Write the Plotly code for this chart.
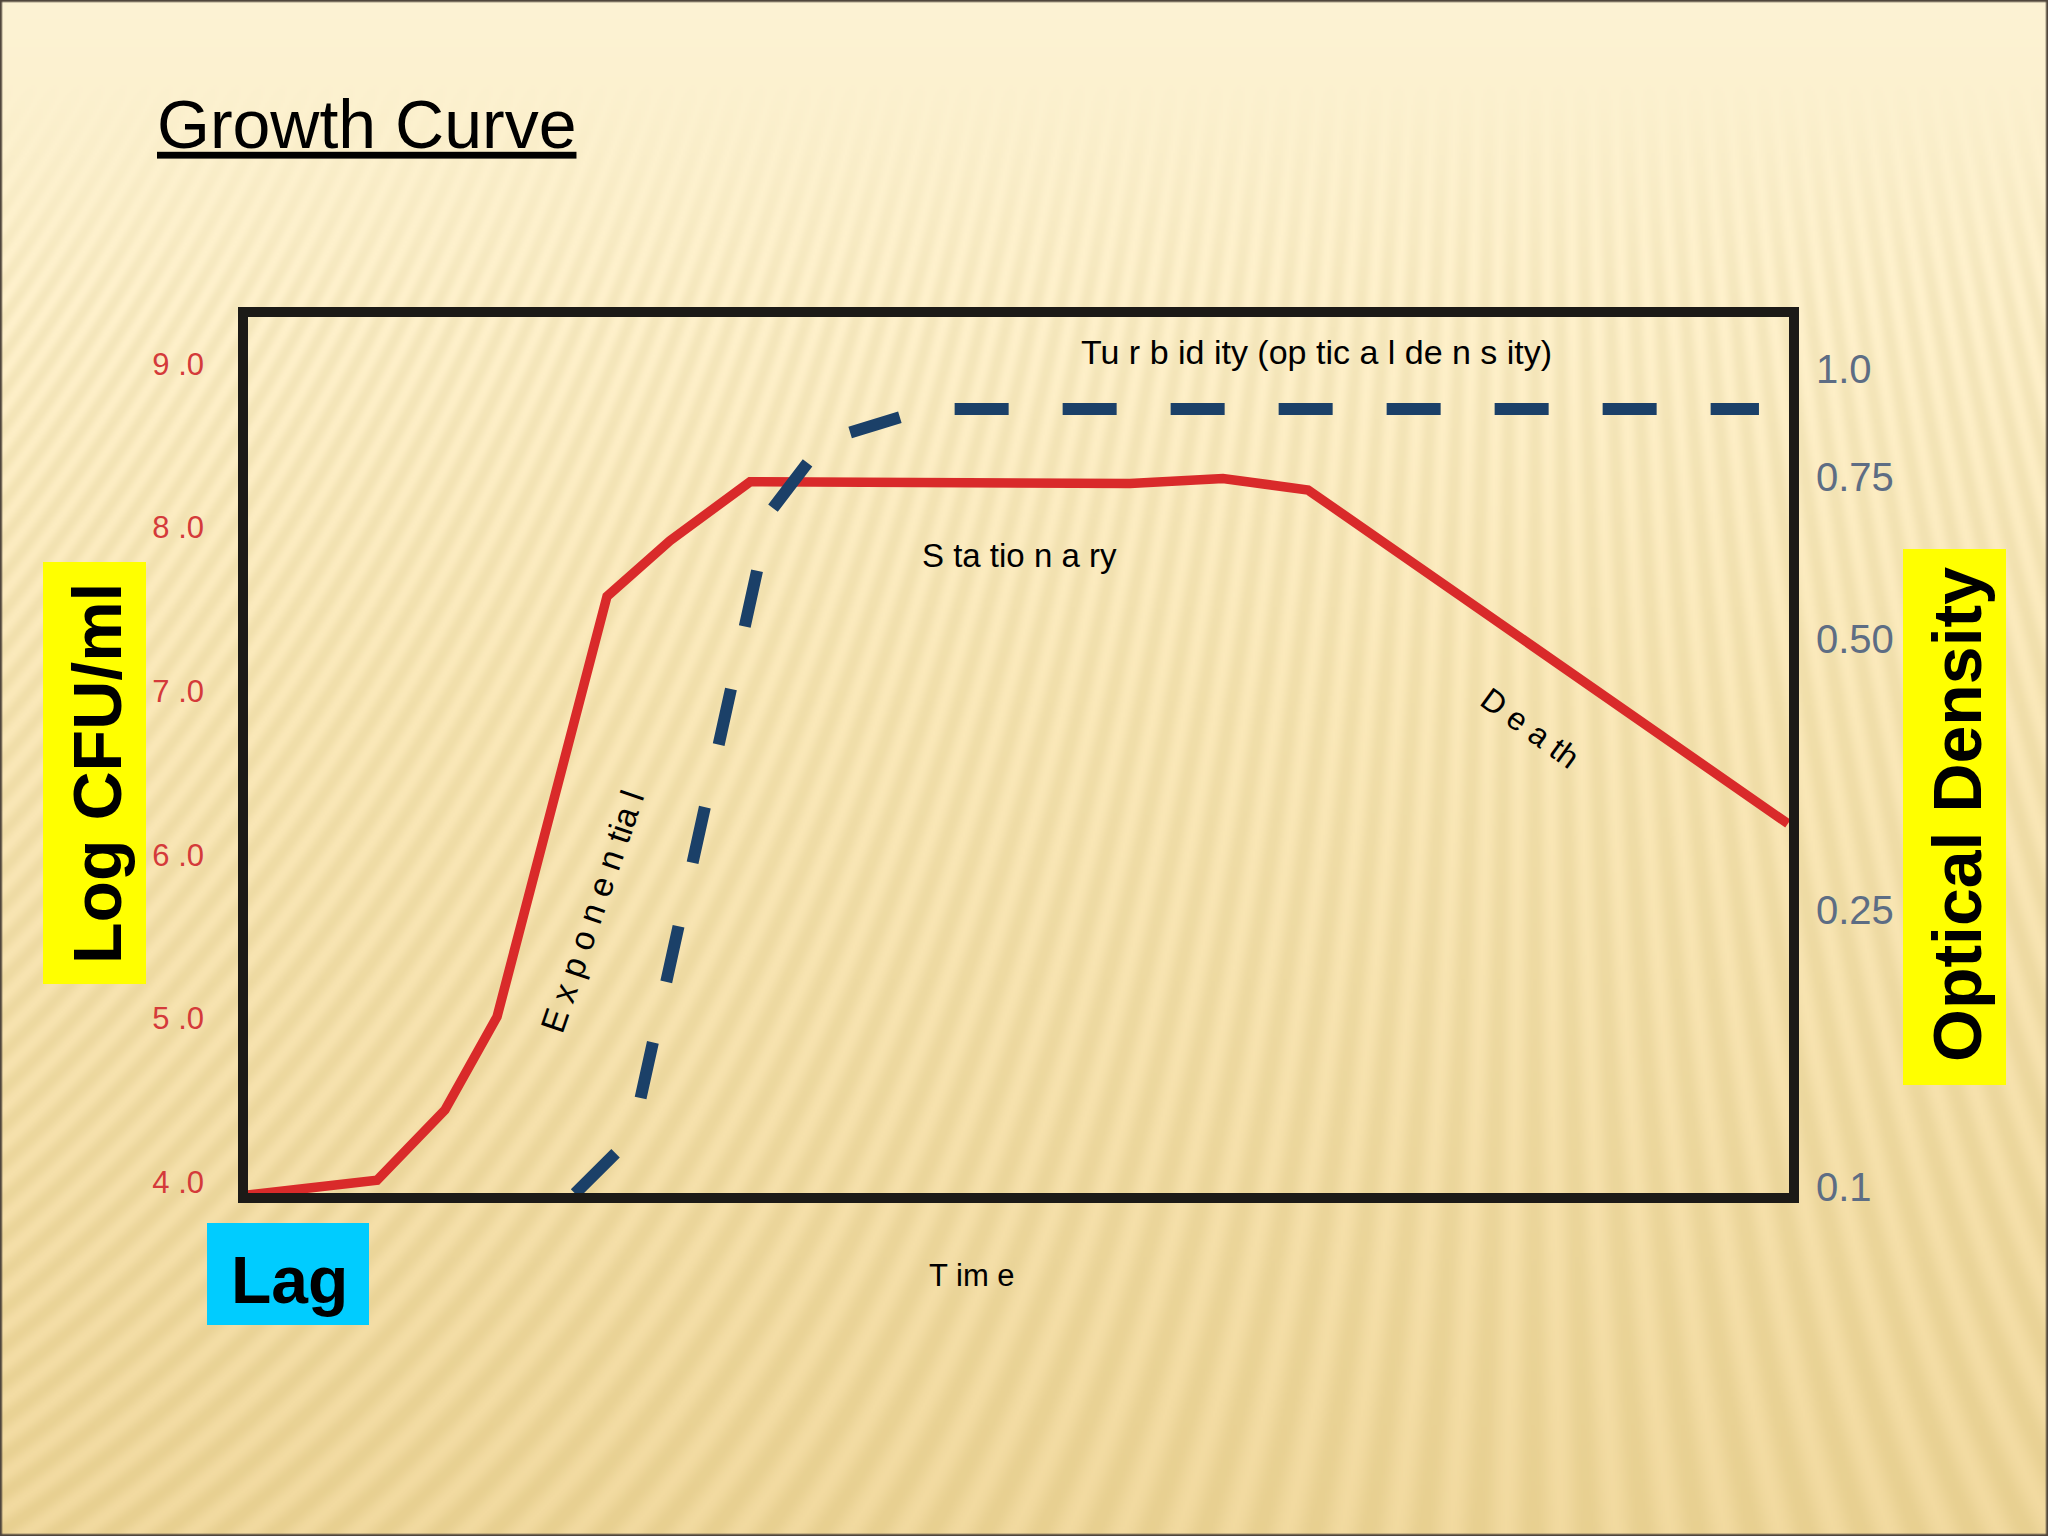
import base64
import struct
import zlib

import numpy as np
import plotly.graph_objects as go

# ---------------- data ----------------
time_cfu = [0.32, 8.64, 13.02, 16.38, 23.47, 27.53, 32.69, 57.19, 63.18, 68.67, 99.61]
log_cfu = [3.92, 4.01, 4.44, 5.01, 7.58, 7.92, 8.28, 8.27, 8.30, 8.23, 6.19]

time_od = [21.41, 25.08, 33.98, 37.52, 44.10, 97.74]
od_level = [3.93, 4.275, 8.095, 8.535, 8.725, 8.725]   # on the (non-linear) OD scale below

cfu_tick_vals = [4, 5, 6, 7, 8, 9]
cfu_tick_text = ["4 .0", "5 .0", "6 .0", "7 .0", "8 .0", "9 .0"]

od_tick_pos = [3.97, 5.66, 7.32, 8.31, 8.97]
od_tick_text = ["0.1", "0.25", "0.50", "0.75", "1.0"]

# ---------------- geometry helpers ----------------
W, H = 2048, 1536
ML, MR, MT, MB = 243, 254, 312, 338
PW, PH = W - ML - MR, H - MT - MB


def px2x(px):
    return (px - ML) / PW


def py2y(py):
    return (MT + PH - py) / PH


# ---------------- background image ----------------
def make_png(arr):
    h, w, _ = arr.shape
    raw = b"".join(b"\x00" + arr[i].tobytes() for i in range(h))

    def chunk(t, d):
        return struct.pack(">I", len(d)) + t + d + struct.pack(">I", zlib.crc32(t + d) & 0xFFFFFFFF)

    return (b"\x89PNG\r\n\x1a\n"
            + chunk(b"IHDR", struct.pack(">IIBBBBB", w, h, 8, 2, 0, 0, 0))
            + chunk(b"IDAT", zlib.compress(raw, 9))
            + chunk(b"IEND", b""))


bh, bw = 768, 1024
yy, xx = np.mgrid[0:bh, 0:bw].astype(float)
yy *= 2.0
xx *= 2.0
stops_y = np.array([0, 230, 700, 1536], float)
stops_c = np.array([[253, 243, 212], [251, 238, 200], [246, 228, 178], [237, 213, 152]], float)
base = np.stack([np.interp(yy, stops_y, stops_c[:, k]) for k in range(3)], axis=-1)
slope = 0.6 - 0.8 * (xx / 2048.0)
phase = 2 * np.pi * (xx + slope * yy) / 22.0
stripe = np.sin(phase)
amp = np.clip((yy - 80) / 220.0, 0, 1) * 5.0
img = base + (stripe * amp)[..., None] * np.array([1.0, 1.0, 1.5])
img = np.clip(img, 0, 255).astype(np.uint8)
img[0, :] = [80, 70, 60]
img[-1, :] = [80, 70, 60]
img[:, 0] = [80, 70, 60]
img[:, -1] = [80, 70, 60]
bg_src = "data:image/png;base64," + base64.b64encode(make_png(img)).decode("ascii")

# ---------------- figure ----------------
SANS = "Liberation Sans, Arial, sans-serif"

od_dash = ",".join(str(v) + "px" for v in
                   [57, 63, 57, 62, 57, 65, 57, 64, 57, 64, 57, 65, 57, 55, 52, 56] + [54] * 24)

fig = go.Figure()
fig.add_trace(go.Scatter(
    x=time_cfu, y=log_cfu, mode="lines",
    line=dict(color="#D92A2A", width=9.5),
    yaxis="y", showlegend=False, hoverinfo="skip"))
fig.add_trace(go.Scatter(
    x=time_od, y=od_level, mode="lines",
    line=dict(color="#1B4068", width=12, dash=od_dash),
    yaxis="y2", showlegend=False, hoverinfo="skip"))

yr = [3.902, 9.318]
fig.update_layout(
    width=W, height=H,
    margin=dict(l=ML, r=MR, t=MT, b=MB, pad=0),
    paper_bgcolor="#F6E4B2",
    plot_bgcolor="#FFFFFF",
    title=dict(text="<u>Growth Curve</u>", x=157 / W, y=1 - 124 / H,
               xref="container", yref="container", xanchor="left", yanchor="middle",
               font=dict(family=SANS, size=68, color="#000000")),
    xaxis=dict(range=[0, 100], showticklabels=False, showgrid=False, zeroline=False,
               showline=False, ticks=""),
    yaxis=dict(range=yr, tickvals=cfu_tick_vals, ticktext=cfu_tick_text,
               tickfont=dict(family=SANS, size=31, color="#D43A3A"),
               showgrid=False, zeroline=False, showline=False, ticks="",
               ticklabelstandoff=38),
    yaxis2=dict(range=yr, overlaying="y", side="right", tickvals=od_tick_pos,
                ticktext=od_tick_text,
                tickfont=dict(family=SANS, size=40, color="#5D6D84"),
                showgrid=False, zeroline=False, showline=False, ticks="",
                ticklabelstandoff=21),
    images=[dict(source=bg_src, xref="paper", yref="paper", x=px2x(0), y=py2y(0),
                 sizex=W / PW, sizey=H / PH, xanchor="left", yanchor="top",
                 sizing="stretch", layer="below")],
)

shapes = [
    dict(type="rect", xref="paper", yref="paper", x0=0, x1=1, y0=0, y1=1,
         line=dict(color="#1C1A17", width=10), fillcolor="rgba(0,0,0,0)", layer="above"),
    dict(type="rect", xref="paper", yref="paper", x0=px2x(43), x1=px2x(146),
         y0=py2y(984), y1=py2y(562), line=dict(width=0), fillcolor="#FFFF00", layer="above"),
    dict(type="rect", xref="paper", yref="paper", x0=px2x(1903), x1=px2x(2006),
         y0=py2y(1085), y1=py2y(549), line=dict(width=0), fillcolor="#FFFF00", layer="above"),
    dict(type="rect", xref="paper", yref="paper", x0=px2x(207), x1=px2x(369),
         y0=py2y(1325), y1=py2y(1223), line=dict(width=0), fillcolor="#00CCFF", layer="above"),
]
fig.update_layout(shapes=shapes)


def ann(text, cx, cy, size, angle=0, bold=False):
    return dict(text=("<b>%s</b>" % text) if bold else text,
                x=px2x(cx), y=py2y(cy), xref="paper", yref="paper",
                xanchor="center", yanchor="middle", showarrow=False, textangle=angle,
                font=dict(family=SANS, size=size, color="#000000"))


annotations = [
    ann("Log CFU/ml", 97, 773, 68, -90, True),
    ann("Optical Density", 1957, 815, 68, -90, True),
    ann("Lag", 289, 1280, 66, 0, True),
    ann("Tu r b id ity (op tic a l de n s ity)", 1316, 352, 34),
    ann("S ta tio n a ry", 1019, 555, 33),
    ann("E x p o n e n tia l", 592, 912, 34, -71),
    ann("D e a th", 1530, 728, 32, 36),
    ann("T im e", 972, 1275, 31),
]
fig.update_layout(annotations=annotations)

fig.write_html("out.html", config={"displayModeBar": False},
               post_script="document.body.style.margin='0';document.body.style.overflow='hidden';")
